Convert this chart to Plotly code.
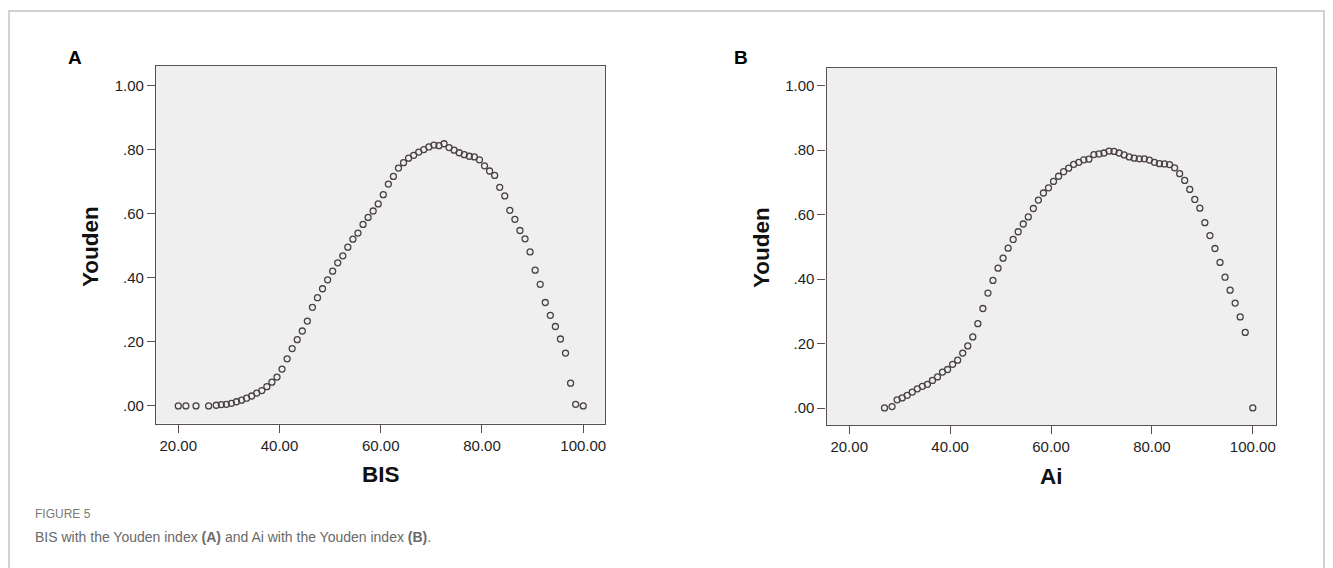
import plotly.graph_objects as go

W, H = 1333, 568

# ---------------- data ----------------
bis_x = [20, 21.5, 23.5, 26, 27.5, 28.5, 29.5, 30.5, 31.5, 32.5, 33.5, 34.5, 35.5, 36.5,
         37.5, 38.5, 39.5, 40.5, 41.5, 42.5, 43.5, 44.5, 45.5, 46.5, 47.5, 48.5, 49.5,
         50.5, 51.5, 52.5, 53.5, 54.5, 55.5, 56.5, 57.5, 58.5, 59.5, 60.5, 61.5, 62.5,
         63.5, 64.5, 65.5, 66.5, 67.5, 68.5, 69.5, 70.5, 71.5, 72.5, 73.5, 74.5, 75.5,
         76.5, 77.5, 78.5, 79.5, 80.5, 81.5, 82.5, 83.5, 84.5, 85.5, 86.5, 87.5, 88.5,
         89.5, 90.5, 91.5, 92.5, 93.5, 94.5, 95.5, 96.5, 97.5, 98.5, 100]
bis_youden = [0.0, 0.0, 0.0, 0.0, 0.002, 0.004, 0.005, 0.008, 0.013, 0.018, 0.024, 0.031,
              0.040, 0.048, 0.060, 0.074, 0.090, 0.115, 0.147, 0.179, 0.207, 0.234, 0.265,
              0.308, 0.338, 0.366, 0.394, 0.421, 0.447, 0.469, 0.496, 0.521, 0.540, 0.567,
              0.589, 0.609, 0.631, 0.660, 0.693, 0.717, 0.743, 0.760, 0.774, 0.783, 0.793,
              0.801, 0.809, 0.815, 0.813, 0.819, 0.807, 0.799, 0.791, 0.785, 0.780, 0.778,
              0.769, 0.750, 0.734, 0.720, 0.683, 0.656, 0.611, 0.583, 0.548, 0.522, 0.481,
              0.424, 0.380, 0.323, 0.283, 0.248, 0.209, 0.165, 0.071, 0.005, 0.000]

ai_x = [27, 28.5, 29.5, 30.5, 31.5, 32.5, 33.5, 34.5, 35.5, 36.5, 37.5, 38.5, 39.5, 40.5,
        41.5, 42.5, 43.5, 44.5, 45.5, 46.5, 47.5, 48.5, 49.5, 50.5, 51.5, 52.5, 53.5,
        54.5, 55.5, 56.5, 57.5, 58.5, 59.5, 60.5, 61.5, 62.5, 63.5, 64.5, 65.5, 66.5,
        67.5, 68.5, 69.5, 70.5, 71.5, 72.5, 73.5, 74.5, 75.5, 76.5, 77.5, 78.5, 79.5,
        80.5, 81.5, 82.5, 83.5, 84.5, 85.5, 86.5, 87.5, 88.5, 89.5, 90.5, 91.5, 92.5,
        93.5, 94.5, 95.5, 96.5, 97.5, 98.5, 100]
ai_youden = [0.001, 0.005, 0.026, 0.032, 0.040, 0.050, 0.060, 0.068, 0.074, 0.086, 0.097,
             0.112, 0.120, 0.136, 0.149, 0.171, 0.193, 0.221, 0.262, 0.309, 0.357, 0.396,
             0.434, 0.465, 0.496, 0.523, 0.547, 0.571, 0.593, 0.619, 0.645, 0.667, 0.683,
             0.703, 0.719, 0.733, 0.744, 0.756, 0.762, 0.770, 0.772, 0.786, 0.788, 0.791,
             0.797, 0.796, 0.791, 0.785, 0.779, 0.775, 0.773, 0.773, 0.769, 0.762, 0.758,
             0.757, 0.755, 0.745, 0.727, 0.706, 0.678, 0.647, 0.620, 0.575, 0.535, 0.495,
             0.452, 0.406, 0.366, 0.326, 0.283, 0.235, 0.001]

y_tickvals = [0, 0.2, 0.4, 0.6, 0.8, 1.0]
y_ticktext = [".00", ".20", ".40", ".60", ".80", "1.00"]
x_tickvals = [20, 40, 60, 80, 100]
x_ticktext = ["20.00", "40.00", "60.00", "80.00", "100.00"]

# ---------------- style ----------------
AXC = "#5b5050"
MKC = "#4a4141"
BG = "#f0eff0"
FONT = "Liberation Sans, Arial, sans-serif"


def px_x(p):
    return p / W


def px_y(p):
    return 1 - p / H


fig = go.Figure()
marker = dict(symbol="circle-open", size=6, color=MKC, line=dict(width=1.3, color=MKC))
fig.add_trace(go.Scatter(x=bis_x, y=bis_youden, mode="markers", marker=marker,
                         xaxis="x", yaxis="y", showlegend=False))
fig.add_trace(go.Scatter(x=ai_x, y=ai_youden, mode="markers", marker=marker,
                         xaxis="x2", yaxis="y2", showlegend=False))

axis_common = dict(showline=True, linecolor=AXC, linewidth=1.3, mirror=True,
                   ticks="outside", ticklen=8, tickwidth=1.2, tickcolor=AXC,
                   showgrid=False, zeroline=False,
                   tickfont=dict(family=FONT, size=15, color="#1e1e1e"))

fig.update_layout(
    width=W, height=H,
    margin=dict(l=0, r=0, t=0, b=0),
    paper_bgcolor="white",
    plot_bgcolor=BG,
    xaxis=dict(axis_common, domain=[px_x(156), px_x(605)], range=[15.6, 104.3],
               tickvals=x_tickvals, ticktext=x_ticktext, anchor="y"),
    yaxis=dict(axis_common, domain=[px_y(423.5), px_y(66)], range=[-0.055, 1.062],
               tickvals=y_tickvals, ticktext=y_ticktext, anchor="x"),
    xaxis2=dict(axis_common, domain=[px_x(826.5), px_x(1275.5)], range=[15.5, 104.5],
                tickvals=x_tickvals, ticktext=x_ticktext, anchor="y2"),
    yaxis2=dict(axis_common, domain=[px_y(425), px_y(67.5)], range=[-0.052, 1.056],
                tickvals=y_tickvals, ticktext=y_ticktext, anchor="x2"),
)

TITLE_FONT = dict(family=FONT, size=22.5, color="#111")
annotations = [
    dict(text="<b>A</b>", x=px_x(75), y=px_y(58), font=dict(family=FONT, size=19, color="black")),
    dict(text="<b>B</b>", x=px_x(741), y=px_y(58), font=dict(family=FONT, size=19, color="black")),
    dict(text="<b>Youden</b>", x=px_x(90), y=px_y(247), textangle=-90, font=TITLE_FONT),
    dict(text="<b>Youden</b>", x=px_x(762), y=px_y(248), textangle=-90, font=TITLE_FONT),
    dict(text="<b>BIS</b>", x=px_x(381), y=px_y(474), font=TITLE_FONT),
    dict(text="<b>Ai</b>", x=px_x(1051), y=px_y(476), font=TITLE_FONT),
    dict(text="FIGURE 5", x=px_x(33), y=px_y(514), xanchor="left",
         font=dict(family=FONT, size=12, color="#7a7a7a")),
    dict(text="BIS with the Youden index <b>(A)</b> and Ai with the Youden index <b>(B)</b>.",
         x=px_x(33), y=px_y(537), xanchor="left",
         font=dict(family=FONT, size=14, color="#6a6a6a")),
]
for a in annotations:
    a.setdefault("xanchor", "center")
    a.update(xref="paper", yref="paper", yanchor="middle", showarrow=False)
fig.update_layout(annotations=annotations)

fig.add_shape(type="rect", xref="paper", yref="paper",
              x0=px_x(9), x1=px_x(1324), y0=px_y(580), y1=px_y(11),
              line=dict(color="#c4c4c4", width=1.5), fillcolor="rgba(0,0,0,0)", layer="below")

fig.write_html("out.html", config={"displayModeBar": False},
               post_script="document.body.style.margin='0';document.body.style.overflow='hidden';")
